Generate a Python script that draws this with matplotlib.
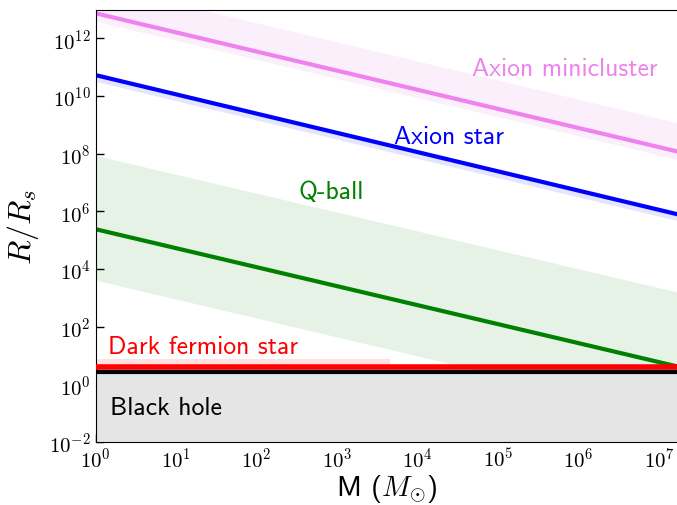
import numpy as np
import matplotlib.pyplot as plt
from matplotlib.ticker import NullLocator

plt.rcParams['font.family'] = 'cmr10'
plt.rcParams['mathtext.fontset'] = 'cm'
plt.rcParams['axes.unicode_minus'] = False
plt.rcParams['axes.formatter.use_mathtext'] = True

# Mass range end points (solar masses)
mass = [1.0, 1.67e7]

# R/R_s of each family at the two mass ends
minicluster = [7.4e12, 1.2e8]
minicluster_hi = [7.4e13, 1.2e9]
minicluster_lo = [3.9e12, 6.4e7]

axion_star = [5.3e10, 8.0e5]
axion_star_lo = [3.2e10, 4.8e5]

qball = [2.4e5, 4.2]
qball_hi = [8.7e7, 1.6e3]
qball_lo = [4.1e3, 7.4e-2]

fermion_mass = [1.0, 4.5e3]
fermion_star = [3.9, 3.9]
fermion_hi = [7.5, 7.5]

black_hole = [2.7, 2.7]
y_floor = [1e-2, 1e-2]

fig = plt.figure(figsize=(6.77, 5.06), dpi=100)
ax = fig.add_axes([0.1414, 0.1245, 0.8586, 0.8547])
ax.set_xscale('log')
ax.set_yscale('log')

# uncertainty bands
ax.fill_between(mass, minicluster_lo, minicluster_hi, color='violet', alpha=0.12, lw=0)
ax.fill_between(mass, axion_star_lo, axion_star, color='blue', alpha=0.1, lw=0)
ax.fill_between(mass, qball_lo, qball_hi, color='green', alpha=0.1, lw=0)
ax.fill_between(fermion_mass, fermion_star, fermion_hi, color='red', alpha=0.12, lw=0)
ax.fill_between(mass, y_floor, black_hole, color='#e5e5e5', lw=0, zorder=2)

# central relations
ax.plot(mass, minicluster, color='violet', lw=3)
ax.plot(mass, axion_star, color='blue', lw=3)
ax.plot(mass, qball, color='green', lw=3)
ax.plot(mass, fermion_star, color='red', lw=4, zorder=3)
ax.plot(mass, black_hole, color='black', lw=3, zorder=3)

lab = dict(family='cmss10', fontsize=18.5)
ax.text(4.7e4, 5.3e10, 'Axion minicluster', color='violet', **lab)
ax.text(5.1e3, 2.4e8, 'Axion star', color='blue', **lab)
ax.text(3.3e2, 3.0e6, 'Q-ball', color='green', **lab)
ax.text(1.42, 11.8, 'Dark fermion star', color='red', zorder=4, **lab)
ax.text(1.5, 0.093, 'Black hole', color='black', zorder=4, **lab)

ax.set_xlim(1, 1.67e7)
ax.set_ylim(1e-2, 1e13)
ax.set_yticks([1e-2, 1e0, 1e2, 1e4, 1e6, 1e8, 1e10, 1e12])
ax.yaxis.set_minor_locator(NullLocator())
ax.tick_params(which='both', direction='in', labelsize=15)
ax.tick_params(which='major', length=6, width=1)
ax.tick_params(which='minor', length=3, width=0.8)
ax.spines['right'].set_visible(False)

ax.set_xlabel(r'M ($M_{\odot}$)', family='cmss10', fontsize=20.5)
ax.set_ylabel(r'$R/R_s$', fontsize=23)
ax.xaxis.set_label_coords(0.5, -0.07)
ax.yaxis.set_label_coords(-0.095, 0.5)

fig.savefig('out.png', dpi=100)
